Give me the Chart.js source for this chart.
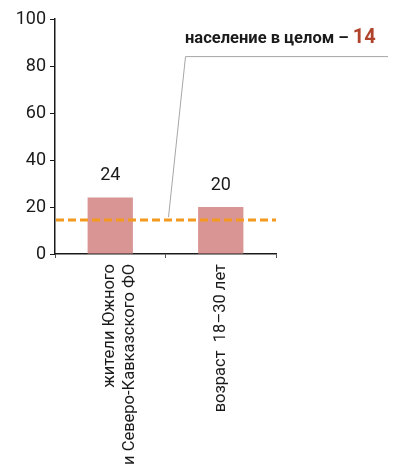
<!DOCTYPE html>
<html>
<head>
<meta charset="utf-8">
<script src="https://cdn.jsdelivr.net/npm/chart.js@4.4.0/dist/chart.umd.min.js"></script>
<style>
  html, body { margin: 0; padding: 0; background: #fff; }
  #wrap { width: 396px; height: 464px; }
</style>
</head>
<body>
<div id="wrap"><canvas id="myBarChart1" width="396" height="464"></canvas></div>
<script>
const categories = [['жители Южного', 'и Северо-Кавказского ФО'], ['возраст  18–30 лет']];
const values = [24, 20];
const yTicks = [0, 20, 40, 60, 80, 100];
const overallValue = 14;
const overallLabel = 'население в целом – ';

const FONT = "'Roboto', sans-serif";

// dashed reference line + callout for the whole population
const overallPlugin = {
  id: 'overall',
  afterDatasetsDraw(chart) {
    const { ctx, chartArea, scales } = chart;
    const y = scales.y.getPixelForValue(overallValue) - 1;
    ctx.save();
    ctx.strokeStyle = '#f39a1e';
    ctx.lineWidth = 3;
    ctx.setLineDash([8, 4]);
    ctx.beginPath();
    ctx.moveTo(chartArea.left + 1, y);
    ctx.lineTo(chartArea.right, y);
    ctx.stroke();

    // leader line
    const x0 = scales.x.getPixelForValue(0.5) + 3;
    const yTop = scales.y.getPixelForValue(84);
    ctx.setLineDash([]);
    ctx.lineWidth = 1;
    ctx.strokeStyle = '#a6a6a6';
    ctx.beginPath();
    ctx.moveTo(x0, y - 3);
    ctx.lineTo(x0 + 17, yTop);
    ctx.lineTo(388, yTop);
    ctx.stroke();

    // label
    ctx.font = "bold 16.5px " + FONT;
    ctx.textBaseline = 'alphabetic';
    ctx.textAlign = 'left';
    ctx.fillStyle = '#1a1a1a';
    const tx = 185, ty = yTop - 14;
    ctx.fillText(overallLabel, tx, ty);
    const w = ctx.measureText(overallLabel).width;
    ctx.font = "bold 20px " + FONT;
    ctx.fillStyle = '#b0432b';
    ctx.fillText(String(overallValue), tx + w, ty);
    ctx.restore();
  }
};

// value labels over bars
const valueLabels = {
  id: 'valueLabels',
  afterDatasetsDraw(chart) {
    const { ctx } = chart;
    const meta = chart.getDatasetMeta(0);
    ctx.save();
    ctx.font = "18px " + FONT;
    ctx.fillStyle = '#1a1a1a';
    ctx.textAlign = 'center';
    ctx.textBaseline = 'bottom';
    meta.data.forEach((bar, i) => {
      ctx.fillText(String(values[i]), bar.x, bar.y - 13);
    });
    ctx.restore();
  }
};

const ctx = document.getElementById('myBarChart1').getContext('2d');
const myBarChart = new Chart(ctx, {
  type: 'bar',
  data: {
    labels: categories,
    datasets: [{
      data: values,
      backgroundColor: '#d99594',
      borderWidth: 0,
      categoryPercentage: 1,
      barPercentage: 0.41
    }]
  },
  options: {
    responsive: false,
    animation: false,
    layout: { padding: { top: 19, right: 120, left: 0, bottom: 0 } },
    plugins: { legend: { display: false }, tooltip: { enabled: false } },
    scales: {
      x: {
        grid: { display: true, drawOnChartArea: false, tickLength: 4, color: '#555', offset: true },
        border: { display: true, color: '#1a1a1a', width: 1.5 },
        ticks: {
          minRotation: 90, maxRotation: 90, padding: 6,
          color: '#1a1a1a',
          font: { family: FONT, size: 16.5 }
        },
        afterFit(scale) { scale.height = 464 - 254; }
      },
      y: {
        min: 0, max: 100,
        afterBuildTicks(scale) { scale.ticks = yTicks.map(v => ({ value: v })); },
        grid: { display: true, drawOnChartArea: false, tickLength: 5, color: '#1a1a1a' },
        border: { display: true, color: '#1a1a1a', width: 1.5 },
        ticks: {
          color: '#1a1a1a', padding: 4,
          font: { family: FONT, size: 18 }
        },
        afterFit(scale) { scale.width = 55; }
      }
    }
  },
  plugins: [overallPlugin, valueLabels]
});
</script>
</body>
</html>
